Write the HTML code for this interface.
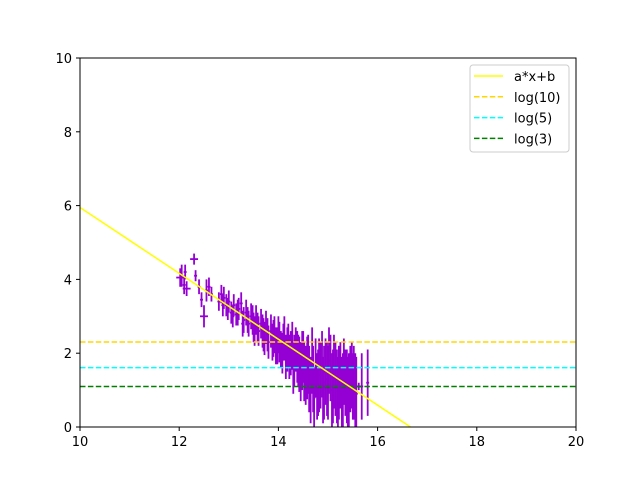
<!DOCTYPE html>
<html><head><meta charset="utf-8"><style>
html,body{margin:0;padding:0;background:#fff;overflow:hidden;width:640px;height:480px;}
svg{display:block;font-family:"DejaVu Sans","Liberation Sans",sans-serif;}
</style></head><body>
<svg id="chart" width="640" height="480" viewBox="0 0 640 480">
<rect width="640" height="480" fill="#fff"/>
<g id="plot"></g>
<g id="axes"></g>
<g id="legend"></g>
</svg>
<script>
const xs=[12.02,12.05,12.1,12.12,12.15,12.3,12.33,12.4,12.45,12.5,12.55,12.6,12.65,12.8,12.85,12.9,12.95,13.0,13.05,13.1,13.15,13.2,13.25,13.3,13.35,13.4,13.45,13.5,13.55,13.6,13.65,13.7,13.75,13.8,13.85,13.9,13.95,14.0,14.05,14.1,14.15,14.2,14.25,14.3,14.35,14.4,14.45,14.5,14.55,14.6,14.65,14.7,14.72,14.75,14.8,14.85,14.9,14.95,15.0,15.05,15.1,15.15,15.2,15.25,15.3,15.35,15.4,15.45,15.5,15.55,15.8,15.62,
12.88,12.98,13.08,13.18,13.28,13.38,13.48,13.52,13.58,13.68,13.72,13.78,13.88,13.92,13.98,14.02,14.08,14.12,14.18,14.22,14.28,14.32,14.38,14.42,14.48,14.52,14.58,14.62,14.68,14.78,14.82,14.88,14.92,14.98,15.02,15.08,15.12,15.18,15.22,15.28,15.32,15.38,15.42,15.48,15.52,15.57,15.68];
const ys=[4.05,4.1,3.85,4.2,3.75,4.55,4.1,3.8,3.45,3.0,3.7,3.8,3.6,3.4,3.6,3.5,3.3,3.4,3.1,3.3,3.05,3.2,3.35,2.9,3.1,2.8,3.0,2.7,2.9,2.6,2.8,2.5,2.7,2.3,2.6,2.4,2.2,2.5,2.1,2.3,1.9,2.2,2.0,1.6,2.1,1.8,1.5,1.9,1.4,1.7,1.0,1.3,0.8,1.6,1.2,1.4,1.0,1.5,1.2,1.6,1.1,1.3,0.9,1.4,1.0,1.2,0.9,1.3,1.1,1.0,1.2,1.1,
3.3,3.2,3.0,3.1,2.8,2.9,2.9,2.6,2.7,2.6,2.4,2.5,2.3,2.5,2.2,2.3,2.0,2.4,2.1,1.9,2.2,1.8,1.9,1.7,1.8,1.5,1.6,1.3,1.8,1.1,1.4,1.7,1.2,1.3,1.8,1.0,1.5,1.1,1.2,0.9,1.5,1.1,1.0,1.4,1.2,0.9,1.1];
const yerr=[0.25,0.3,0.25,0.2,0.2,0.15,0.15,0.2,0.2,0.3,0.3,0.25,0.2,0.25,0.25,0.3,0.3,0.3,0.3,0.3,0.3,0.3,0.3,0.35,0.35,0.35,0.35,0.4,0.4,0.4,0.4,0.45,0.45,0.45,0.45,0.5,0.5,0.5,0.5,0.5,0.6,0.6,0.6,0.7,0.6,0.7,0.8,0.7,0.8,0.8,0.9,0.9,0.8,0.8,0.9,0.9,0.9,0.9,1.0,0.9,1.0,1.0,1.0,0.9,1.0,0.9,1.0,0.9,0.9,1.0,0.9,0.1,
0.3,0.3,0.3,0.35,0.35,0.35,0.4,0.4,0.4,0.45,0.45,0.45,0.5,0.5,0.5,0.55,0.55,0.6,0.6,0.6,0.65,0.7,0.7,0.75,0.8,0.8,0.85,0.9,0.9,0.9,1.0,0.9,1.0,1.0,0.9,1.0,1.0,1.0,1.0,1.0,0.9,1.0,1.0,0.9,1.0,1.0,0.9];
const xerr=xs.map((v,i)=>[0,4,5,9,71].includes(i)?0.08:0.03);
const xTicks=[10,12,14,16,18,20];
const yTicks=[0,2,4,6,8,10];
const lineA=-0.893, lineB=14.88;
const hlines=[2.303,1.609,1.099];
const hlineColors=["#ffd700","#00ffff","#008000"];
const legendLabels=["a*x+b","log(10)","log(5)","log(3)"];

const X0=80,X1=576,Y0=427,Y1=58;
const sx=v=>X0+(v-10)/10*(X1-X0);
const sy=v=>Y0-(v-0)/10*(Y0-Y1);
const NS="http://www.w3.org/2000/svg";
function mk(parent,tag,attrs){const e=document.createElementNS(NS,tag);for(const k in attrs)e.setAttribute(k,attrs[k]);parent.appendChild(e);return e;}
const plot=document.getElementById('plot'),axes=document.getElementById('axes'),legend=document.getElementById('legend');
const defs=mk(plot,'defs',{});const cp=mk(defs,'clipPath',{id:'clip'});mk(cp,'rect',{x:X0,y:Y1,width:X1-X0,height:Y0-Y1});
const g=mk(plot,'g',{'clip-path':'url(#clip)'});
for(let i=0;i<xs.length;i++){
  const eb=mk(g,'g',{stroke:'#9400d3','stroke-width':1.8});
  
  
  mk(eb,'line',{x1:sx(xs[i]),x2:sx(xs[i]),y1:sy(ys[i]-yerr[i]),y2:sy(ys[i]+yerr[i])});
  mk(eb,'line',{x1:sx(xs[i]-xerr[i]),x2:sx(xs[i]+xerr[i]),y1:sy(ys[i]),y2:sy(ys[i])});
}
for(let i=0;i<hlines.length;i++){
  const l=mk(g,'line',{x1:X0,x2:X1,y1:sy(hlines[i]),y2:sy(hlines[i]),stroke:hlineColors[i],'stroke-width':1.5,'stroke-dasharray':'5.5,2.4'});
  
  
}
const fl=mk(g,'line',{x1:sx(10),y1:sy(lineA*10+lineB),x2:sx(20),y2:sy(lineA*20+lineB),stroke:'#ffff00','stroke-width':1.5});


mk(axes,'rect',{x:X0,y:Y1,width:X1-X0,height:Y0-Y1,fill:'none',stroke:'#000','stroke-width':1});
xTicks.forEach(t=>{
  mk(axes,'line',{x1:sx(t),x2:sx(t),y1:Y0,y2:Y0+4,stroke:'#000'});
  const tx=mk(axes,'text',{x:sx(t),y:Y0+19,'text-anchor':'middle','font-size':13});tx.textContent=t;
  
  
});
yTicks.forEach(t=>{
  mk(axes,'line',{x1:X0-4,x2:X0,y1:sy(t),y2:sy(t),stroke:'#000'});
  const tx=mk(axes,'text',{x:X0-8,y:sy(t)+5,'text-anchor':'end','font-size':13});tx.textContent=t;
  
  
});
mk(legend,'rect',{x:470,y:65,width:99,height:87,fill:'#fff',stroke:'#ccc',rx:3});
const lc=["#ffff00"].concat(hlineColors);
legendLabels.forEach((lab,i)=>{
  const y=76+i*20.8;
  const e=mk(legend,'g',{});
  
  
  mk(e,'line',{x1:474,x2:503,y1:y,y2:y,stroke:lc[i],'stroke-width':1.5,'stroke-dasharray':i?'5.5,2.4':'none'});
  const t=mk(e,'text',{x:514,y:y+5,'font-size':13});t.textContent=lab;
});
</script>
</body></html>
